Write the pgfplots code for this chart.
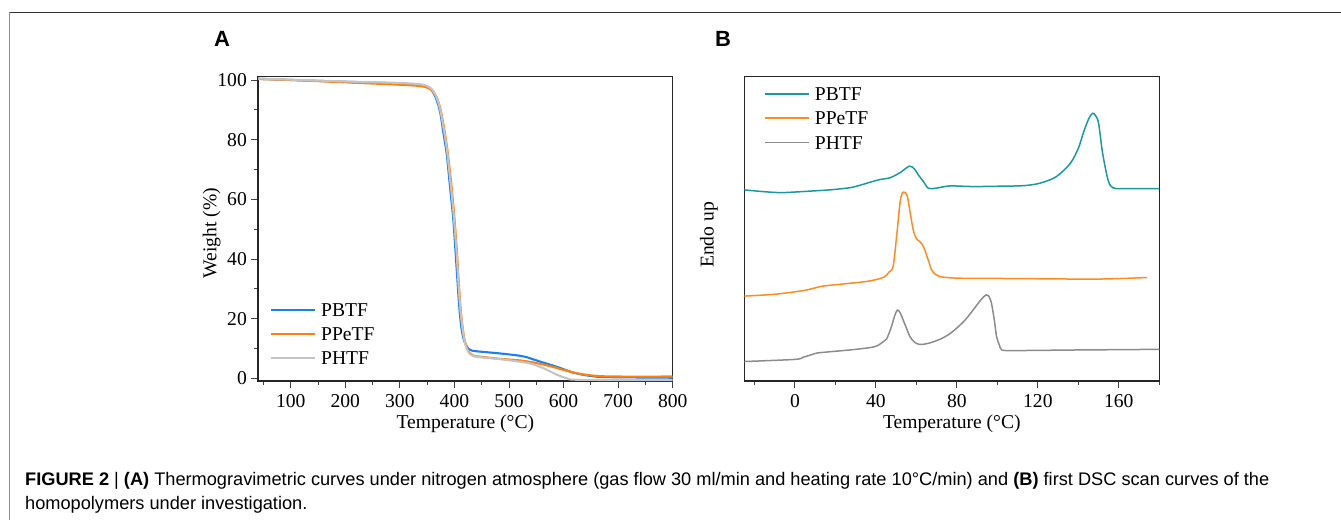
\documentclass[border=0pt]{standalone}
\usepackage{fontspec}
\setmainfont{Liberation Serif}
\newfontfamily\panelfont{Liberation Sans}
\newfontfamily\capfont{Liberation Sans}
\usepackage{pgfplots}
\pgfplotsset{compat=1.18}

\definecolor{tgablue}{HTML}{1A80EE}
\definecolor{tgaorange}{HTML}{FF8012}
\definecolor{tgagray}{HTML}{C4C4C4}
\definecolor{dscteal}{HTML}{1A9A9A}
\definecolor{dscorange}{HTML}{FF8C1E}
\definecolor{dscgray}{HTML}{8C8C8C}

\pgfplotsset{
  panel/.style={
    scale only axis, width=414.7bp, height=304.3bp,
    axis line style={line width=1.1bp, black!85},
    tick style={line width=0.9bp, black!75},
    tick align=outside,
    major tick length=7bp, minor tick length=4bp,
    xtick pos=bottom, ytick pos=left,
    /pgf/number format/assume math mode=true,
    tick label style={font=\fontsize{19.6bp}{22bp}\selectfont},
    label style={font=\fontsize{19.6bp}{22bp}\selectfont},
    xticklabel style={anchor=base, inner sep=0pt, yshift=-19bp},
    yticklabel style={anchor=east, inner sep=0pt, xshift=-4bp},
    xlabel style={at={(axis description cs:0.5,0)}, anchor=base, yshift=-47bp, inner sep=0pt},
    legend style={draw=none, fill=none, inner sep=0pt, outer sep=0pt,
      anchor=north west, column sep=5bp,
      font=\fontsize{19.6bp}{22bp}\selectfont,
      nodes={inner sep=0pt, text height=12.6bp, text depth=0bp}},
    legend cell align=left,
    legend image code/.code={\draw[#1] (0bp,0.3bp) -- (44bp,0.3bp);},
  },
  tga/.style={line width=2.1bp, smooth, tension=0.5},
  dsc/.style={line width=1.5bp, smooth, tension=0.5},
}

\begin{document}
\begin{tikzpicture}[x=1bp,y=1bp]
\useasboundingbox (0,0) rectangle (1341,-520);

% page frame (only top and left edges show)
\draw[line width=1bp, black!80] (9.3,-12.3) -- (1341,-12.3);
\draw[line width=1bp, black!45] (9.3,-12.3) -- (9.3,-520);

\node[anchor=base west, inner sep=0pt, font=\panelfont\bfseries\fontsize{22bp}{24bp}\selectfont] at (214,-47) {A};
\node[anchor=base west, inner sep=0pt, font=\panelfont\bfseries\fontsize{22bp}{24bp}\selectfont] at (715,-47) {B};

% ---------- A: TGA ----------
\begin{axis}[panel, at={(258bp,-381bp)}, anchor=south west,
  xmin=40, xmax=800, ymin=-0.9, ymax=101.1,
  xtick={100,200,...,800}, minor xtick={50,150,...,750},
  ytick={0,20,...,100}, minor ytick={10,30,...,90},
  xlabel={Temperature (°C)},
  ylabel={Weight (\%)},
  ylabel style={at={(axis description cs:-0.1117,0.4854)}, anchor=center},
  legend style={at={(0.029,0.254)}, row sep=11.5bp},
]
\addplot[tga, tgablue] coordinates {
  (40,100.4) (100,100.0) (200,99.4) (300,98.8) (340,98.2) (355,97.2)
  (362,95.5) (368,93.0) (374,89) (380,82) (386,75) (392,64) (398,53)
  (404,37) (408,26) (412,18) (417,13) (424,10.3) (432,9.3) (450,8.9)
  (480,8.4) (510,7.8) (530,7.2) (557,5.6) (587,3.9) (618,1.9) (649,0.8)
  (680,0.4) (800,0.2)};
\addplot[tga, tgaorange] coordinates {
  (40,100.3) (100,100.0) (200,99.2) (300,98.4) (340,97.9) (355,97.0)
  (362,95.8) (368,94) (374,90.5) (380,85) (386,78) (392,69) (398,58)
  (404,44) (408,32) (412,22) (417,14.5) (422,10.5) (428,8.5) (435,7.6)
  (450,7.2) (480,6.6) (520,6.0) (545,5.3) (575,4.1) (600,2.8) (630,1.5)
  (661,0.8) (700,0.6) (800,0.6)};
\addplot[tga, tgagray] coordinates {
  (40,100.5) (100,100.1) (200,99.5) (300,99.0) (340,98.5) (355,97.5)
  (362,96) (368,93.8) (374,90) (380,84) (386,77) (392,67) (398,56)
  (404,42) (408,30) (412,21) (417,14) (422,10.2) (428,8.2) (435,7.4)
  (450,7.0) (480,6.5) (510,5.8) (538,5.0) (563,3.4) (588,1.2) (606,0.0)
  (630,-0.5) (800,-0.6)};
\legend{PBTF, PPeTF, PHTF}
\end{axis}

% ---------- B: DSC ----------
\begin{axis}[panel, at={(744.3bp,-381bp)}, anchor=south west, width=415bp,
  xmin=-25, xmax=180, ymin=0, ymax=100,
  xtick={0,40,...,160}, minor xtick={-20,20,...,180},
  ytick=\empty,
  xlabel={Temperature (°C)},
  ylabel={Endo up},
  ylabel style={at={(axis description cs:-0.0851,0.4798)}, anchor=center},
  legend style={at={(0.0475,0.964)}, row sep=11.8bp},
  legend image code/.code={\draw[#1, line width=1.9bp] (0bp,0.3bp) -- (44bp,0.3bp);},
]
\addplot[dsc, dscteal] coordinates {
  (-25,62.8) (-15,62.2) (-7,61.9) (0,62.1) (10,62.5) (17,62.8) (27,63.5)
  (32,64.3) (37,65.3) (42,66.2) (47,66.8) (52,68.5) (56.5,70.6) (59,69.7)
  (61,67.7) (63.5,65.5) (66,63.3) (70,63.4) (76.5,64.1) (88,63.9) (100,64.0)
  (113,64.2) (121,65.0) (129,67.1) (136,71.5) (140,76.5) (142.4,81.4)
  (145,86) (147,88.0) (148.5,87.2) (150,84.7) (152,74.8) (154.7,66.0)
  (157,63.5) (162,63.2) (180,63.2)};
\addplot[dsc, dscorange] coordinates {
  (-25,27.9) (-10,28.5) (4,29.7) (10,30.6) (14,31.2) (24,31.9) (34,32.6)
  (40,33.3) (44.4,34.3) (46.5,35.8) (48.5,37.6) (50.2,47.4) (51.9,58.4)
  (53,61.7) (54.2,62.0) (55.5,60.8) (57,55) (58.5,49.5) (60,46.8)
  (61.7,45.8) (63,44.8) (64.2,43.0) (66,39.5) (67.5,36.5) (69.5,35.0)
  (71.6,34.3) (80,33.8) (100,33.7) (120,33.6) (150,33.5) (174,34.0)};
\addplot[dsc, dscgray] coordinates {
  (-25,6.4) (0,7.1) (4,7.8) (8,8.6) (11,9.2) (17,9.6) (30,10.4) (39.5,11.3)
  (43.6,12.9) (45.3,13.8) (47.7,17.9) (49.3,21.5) (50.6,23.3) (52,22.4)
  (53.5,20.0) (55,17.5) (56.8,14.6) (59,12.8) (61.7,12.0) (66,12.4)
  (71.6,13.7) (76,15.3) (79.8,17.3) (84,20.0) (88,23.3) (92,26.8)
  (94.5,28.3) (96,27.6) (97.1,25.5) (98.5,20) (99.6,14.6) (101,11.8)
  (102,10.4) (106,10.0) (140,10.2) (180,10.4)};
\legend{PBTF, PPeTF, PHTF}
\end{axis}

% caption
\node[anchor=base west, inner sep=0pt, font=\capfont\fontsize{18.2bp}{21bp}\selectfont] at (25,-485)
  {\textbf{FIGURE 2} | \textbf{(A)} Thermogravimetric curves under nitrogen atmosphere (gas flow 30 ml/min and heating rate 10°C/min) and \textbf{(B)} first DSC scan curves of the};
\node[anchor=base west, inner sep=0pt, font=\capfont\fontsize{18.2bp}{21bp}\selectfont] at (25,-509.5)
  {homopolymers under investigation.};
\end{tikzpicture}
\end{document}
